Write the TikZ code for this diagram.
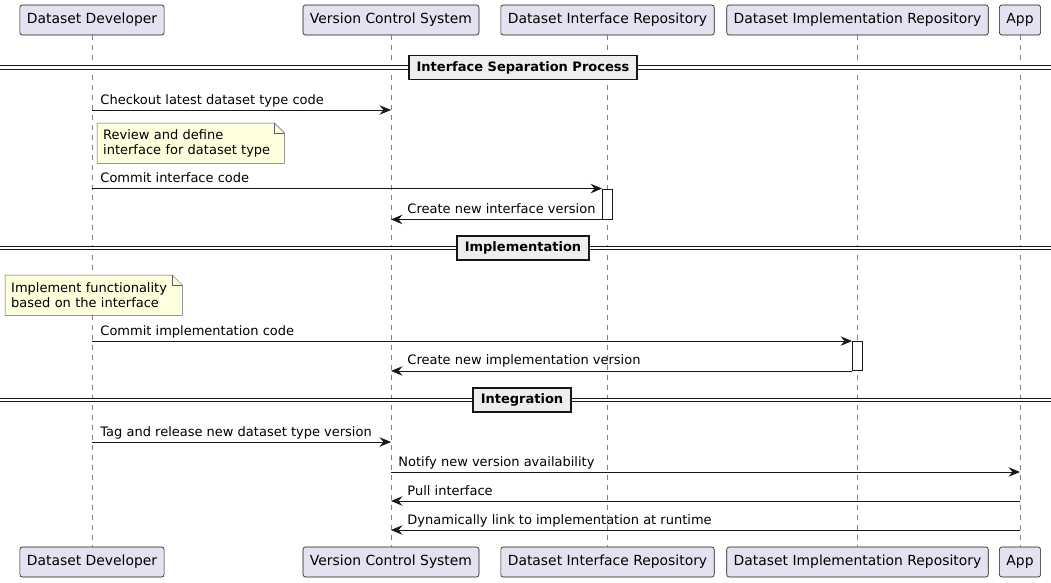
\documentclass[tikz,border=0pt]{standalone}
\usepackage{fontspec}
\setmainfont{DejaVu Sans}
\usetikzlibrary{arrows.meta,calc}
\definecolor{partfill}{HTML}{E2E2F0}
\definecolor{linegray}{HTML}{181818}
\definecolor{notefill}{HTML}{FEFFDD}
\definecolor{divfill}{HTML}{EEEEEE}

\tikzset{
  part/.style={draw=linegray, fill=partfill, rounded corners=2.5pt, line width=0.6pt,
    minimum height=30pt, inner xsep=7pt, font=\fontsize{13.9pt}{16pt}\selectfont},
  life/.style={draw=gray, line width=0.6pt, dash pattern=on 5pt off 5pt},
  msg/.style={draw=linegray, line width=0.9pt, -{Stealth[length=11.5pt,width=9.5pt,inset=4pt]}},
  lbl/.style={anchor=base west, inner sep=0pt, font=\fontsize{13pt}{15pt}\selectfont},
  act/.style={draw=linegray, fill=white, line width=0.9pt, minimum width=10pt, inner sep=0pt},
  divline/.style={draw=linegray, line width=1.1pt, double=white, double distance=2.6pt},
  divbox/.style={draw=linegray, fill=divfill, line width=1.6pt, minimum height=24pt,
    inner xsep=7.5pt, font=\fontsize{13pt}{15pt}\selectfont\bfseries},
  notetext/.style={fill=notefill, anchor=north west, align=left, inner xsep=6pt,
    minimum height=40pt, font=\fontsize{13pt}{15pt}\selectfont},
  noteline/.style={draw=linegray!70, line width=0.5pt}
}
% outline of a note with its folded corner
\newcommand{\notecorner}[1]{%
  \fill[white] ($(#1.north east)+(-10,0)$) -- (#1.north east) -- ($(#1.north east)+(0,10)$) -- cycle;
  \draw[noteline] (#1.north west) -- ($(#1.north east)+(-10,0)$) -- ($(#1.north east)+(0,10)$)
    -- (#1.south east) -- (#1.south west) -- cycle;
  \draw[noteline] ($(#1.north east)+(-10,0)$) |- ($(#1.north east)+(0,10)$);
}

\begin{document}
\begin{tikzpicture}[x=1pt,y=-1pt]
  \useasboundingbox (0,0) rectangle (1051,582);
  % participants with their lifelines
  \foreach \n/\x/\t in {dev/92/Dataset Developer, vcs/391/Version Control System,
      dir/607.5/Dataset Interface Repository, dimpl/857.5/Dataset Implementation Repository, app/1020/App} {
    \node[part] (\n-t) at (\x,20) {\t};
    \node[part] (\n-b) at (\x,562) {\t};
    \draw[life] (\n-t) -- (\n-b);
  }
  % rows of the messages
  \coordinate (r1) at (0,110);
  \coordinate (r8) at (0,442);
  \coordinate (r9) at (0,472);
  \coordinate (r10) at (0,501);
  \coordinate (r11) at (0,530);

  % interface separation
  \draw[divline] (0,67.5) -- (1051,67.5);
  \node[divbox] (div1) at (523,67.5) {Interface Separation Process};
  \draw[msg] (dev-t |- r1) -- (vcs-t |- r1)
    node[lbl, at start, xshift=8pt, yshift=6pt] {Checkout latest dataset type code};
  \node[notetext, text width=175pt] (note1) at (97,123) {Review and define\\interface for dataset type};
  \notecorner{note1}
  \node[act, minimum height=30pt] (act1) at (607.5,204) {};
  \draw[msg] (dev-t |- act1.north) -- (act1.north west)
    node[lbl, at start, xshift=8pt, yshift=6pt] {Commit interface code};
  \draw[msg] (act1.south west) -- (vcs-t |- act1.south)
    node[lbl, at end, xshift=16pt, yshift=6pt] {Create new interface version};

  % implementation
  \draw[divline] (0,248) -- (1051,248);
  \node[divbox] (div2) at (523,248) {Implementation};
  \node[notetext, text width=165pt] (note2) at (5,275) {Implement functionality\\based on the interface};
  \notecorner{note2}
  \node[act, minimum height=29pt] (act2) at (857.5,356) {};
  \draw[msg] (dev-t |- act2.north) -- (act2.north west)
    node[lbl, at start, xshift=8pt, yshift=6pt] {Commit implementation code};
  \draw[msg] (act2.south west) -- (vcs-t |- act2.south)
    node[lbl, at end, xshift=16pt, yshift=6pt] {Create new implementation version};

  % integration
  \draw[divline] (0,400) -- (1051,400);
  \node[divbox] (div3) at (522,400) {Integration};
  \draw[msg] (dev-t |- r8) -- (vcs-t |- r8)
    node[lbl, at start, xshift=8pt, yshift=6pt] {Tag and release new dataset type version};
  \draw[msg] (vcs-t |- r9) -- (app-t |- r9)
    node[lbl, at start, xshift=7pt, yshift=6pt] {Notify new version availability};
  \draw[msg] (app-t |- r10) -- (vcs-t |- r10)
    node[lbl, at end, xshift=16pt, yshift=6pt] {Pull interface};
  \draw[msg] (app-t |- r11) -- (vcs-t |- r11)
    node[lbl, at end, xshift=16pt, yshift=6pt] {Dynamically link to implementation at runtime};
\end{tikzpicture}
\end{document}
